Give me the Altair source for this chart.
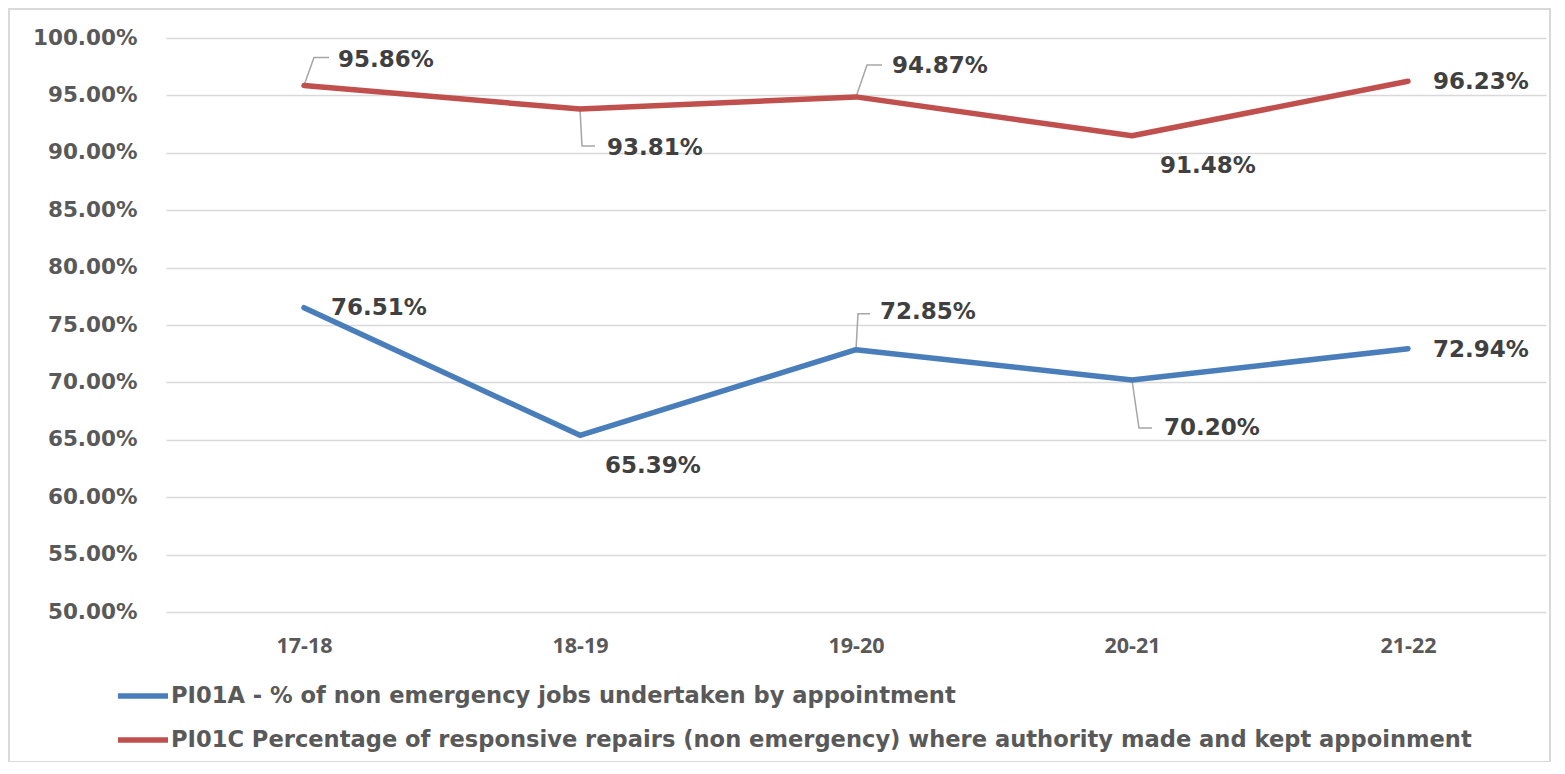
import altair as alt
import pandas as pd

categories = ["17-18", "18-19", "19-20", "20-21", "21-22"]
series_a = "PI01A - % of non emergency jobs undertaken by appointment"
series_c = "PI01C Percentage of responsive repairs (non emergency) where authority made and kept appoinment"
values_a = [76.51, 65.39, 72.85, 70.20, 72.94]
values_c = [95.86, 93.81, 94.87, 91.48, 96.23]
y_ticks = [50, 55, 60, 65, 70, 75, 80, 85, 90, 95, 100]

# label placement (pixels relative to point): text dx, dy; leader corner & end (or None)
label_off_a = [(27, 0, None), (25, 31, None), (24, -38, ((2, -36), (14, -36))),
               (32, 48, ((7, 48), (20, 48))), (25, 1, None)]
label_off_c = [(34, -26, ((10, -28), (25, -28))), (27, 39, ((2, 37), (15, 37))),
               (36, -31, ((11, -32), (26, -32))), (28, 30, None), (25, 1, None)]

W, H = 1380, 574
YMIN, YMAX = 50, 100
px_x = W / 5.0
px_y = H / (YMAX - YMIN)

rows, lbl, lead = [], [], []
for s, vals, offs in [(series_a, values_a, label_off_a), (series_c, values_c, label_off_c)]:
    for i, (c, v) in enumerate(zip(categories, vals)):
        rows.append({"idx": i, "cat": c, "value": v, "series": s})
        dx, dy, ld = offs[i]
        lbl.append({"idx": i, "value": v, "series": s, "text": f"{v:.2f}%", "dx": dx, "dy": dy})
        if ld:
            pts = [(0, 0), ld[0], ld[1]]
            for k, (ox, oy) in enumerate(pts):
                lead.append({"g": f"{s}-{i}", "o": k, "x": i + ox / px_x, "y": v - oy / px_y})

df = pd.DataFrame(rows)
dl = pd.DataFrame(lbl)
dlead = pd.DataFrame(lead)

label_expr = "[" + ",".join(f"'{c}'" for c in categories) + "][datum.value]"

xscale = alt.Scale(domain=[-0.5, 4.5], nice=False, zero=False)
yscale = alt.Scale(domain=[YMIN, YMAX], nice=False, zero=False)

base_x = alt.X("idx:Q", scale=xscale,
               axis=alt.Axis(values=list(range(5)), labelExpr=label_expr, title=None,
                             grid=False, domain=False, ticks=False, labelPadding=23,
                             labelFont="Open Sans", labelFontWeight="bold", labelFontSize=21.5,
                             labelColor="#595959"))
base_y = alt.Y("value:Q", scale=yscale,
               axis=alt.Axis(values=y_ticks, labelExpr="format(datum.value, '.2f') + '%'",
                             title=None, domain=False, ticks=False, labelPadding=29,
                             gridColor="#d9d9d9", gridWidth=1.5,
                             labelFont="DejaVu Sans", labelFontWeight="bold", labelFontSize=21.5,
                             labelColor="#595959"))

color = alt.Color("series:N", scale=alt.Scale(domain=[series_a, series_c], range=["#4a7ebb", "#c0504d"]),
                  legend=alt.Legend(title=None, orient="none", legendX=-51, legendY=630,
                                    direction="vertical", symbolType="stroke", symbolSize=2500,
                                    symbolStrokeWidth=5.5, labelFont="DejaVu Sans", labelFontWeight="bold",
                                    labelFontSize=22.6, labelColor="#595959", labelLimit=0,
                                    rowPadding=4, labelOffset=0))

lines = alt.Chart(df).mark_line(strokeWidth=5.5, strokeCap="round", strokeJoin="round").encode(
    x=base_x, y=base_y, color=color, detail="series:N")

leaders = alt.Chart(dlead).mark_line(color="#a6a6a6", strokeWidth=1.5).encode(
    x=alt.X("x:Q", scale=xscale), y=alt.Y("y:Q", scale=yscale), detail="g:N", order="o:Q")

labels = alt.layer(*[
    alt.Chart(dl[(dl.dx == dx) & (dl.dy == dy)]).mark_text(
        align="left", baseline="middle", dx=dx, dy=dy, font="DejaVu Sans", fontWeight="bold",
        fontSize=23, color="#404040").encode(
        x=alt.X("idx:Q", scale=xscale), y=alt.Y("value:Q", scale=yscale), text="text:N")
    for dx, dy in sorted(set(zip(dl.dx, dl.dy)))
])

frame = alt.Chart(pd.DataFrame({"a": [0]})).mark_rect(fill=None, stroke="#d9d9d9", strokeWidth=2).encode(
    x=alt.value(-157), x2=alt.value(1384), y=alt.value(-29), y2=alt.value(724))

chart = alt.layer(frame, leaders, lines, labels).properties(
    width=W, height=H, autosize=alt.AutoSizeParams(type="none"),
    padding={"left": 158, "top": 30, "right": 10, "bottom": 150}
).configure_view(stroke=None)

chart.save("out.html", embed_options={"renderer": "svg", "actions": False})
